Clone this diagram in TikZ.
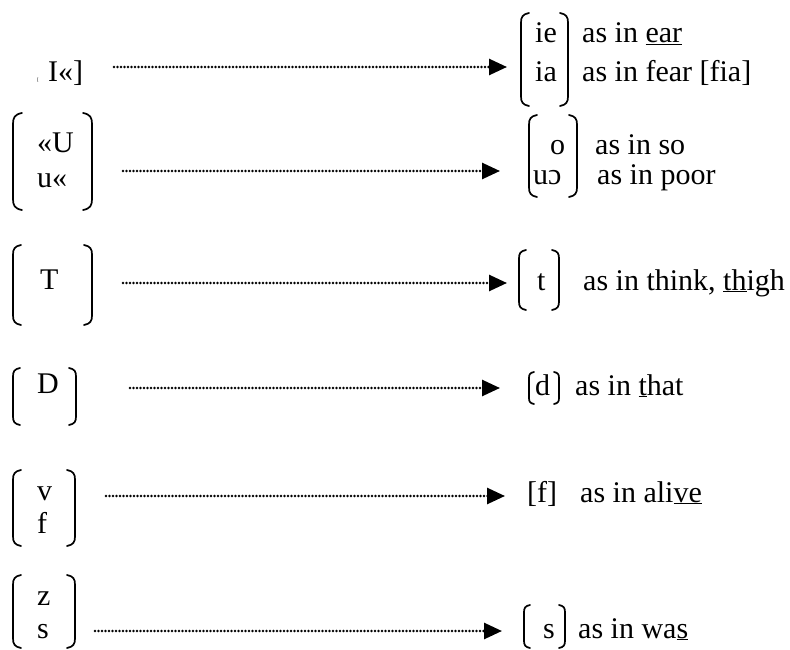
\documentclass[tikz,border=0pt]{standalone}
\usepackage{fontspec}
\setmainfont{Liberation Serif}
\usetikzlibrary{arrows.meta}

% curled square brackets drawn as paths: x of the vertical stroke, top, bottom, curl size
\newcommand\lbrk[4]{\draw[brk] ({#1+#4},#2) .. controls ({#1+0.2*#4},{#2+0.15*#4}) and (#1,{#2+0.5*#4}) .. (#1,{#2+1.2*#4}) -- (#1,{#3-1.2*#4}) .. controls (#1,{#3-0.5*#4}) and ({#1+0.2*#4},{#3-0.15*#4}) .. ({#1+#4},#3);}
\newcommand\rbrk[4]{\draw[brk] ({#1-#4},#2) .. controls ({#1-0.2*#4},{#2+0.15*#4}) and (#1,{#2+0.5*#4}) .. (#1,{#2+1.2*#4}) -- (#1,{#3-1.2*#4}) .. controls (#1,{#3-0.5*#4}) and ({#1-0.2*#4},{#3-0.15*#4}) .. ({#1-#4},#3);}
\newcommand\ul[1]{\underline{#1}}

\begin{document}
\begin{tikzpicture}[x=1pt,y=-1pt,
  txt/.style={anchor=base west,inner sep=0pt,font=\fontsize{30}{36}\selectfont},
  brk/.style={line width=1.7pt,line cap=round},
  dotarrow/.style={line width=2.7pt,line cap=round,dash pattern=on 0pt off 3.5pt,
    -{Triangle[length=18pt,width=16pt]}}]
\useasboundingbox (0,0) rectangle (790,650);

% row 1
\node[anchor=base west,inner sep=0pt,font=\fontsize{5}{6}\selectfont] (m1) at (37,82) {[};
\node[txt] (l1) at (48,82) {I«]};
\lbrk{521}{13}{106}{8}
\rbrk{568}{13}{106}{8}
\node[txt] (r1a) at (535,43) {ie};
\node[txt] (r1b) at (535,82) {ia};
\node[txt] (t1a) at (582,43) {as in \ul{ear}};
\node[txt] (t1b) at (582,82) {as in fear [fia]};
\coordinate (s1) at (114,67);
\coordinate (e1) at (507,67);
\draw[dotarrow] (s1) -- (e1);

% row 2
\lbrk{13}{113}{210}{9}
\rbrk{92}{113}{210}{9}
\node[txt] (l2a) at (37,153) {«U};
\node[txt] (l2b) at (37,187) {u«};
\lbrk{529}{115}{197}{8}
\rbrk{577}{115}{197}{8}
\node[txt] (r2a) at (550,155) {o};
\node[txt] (r2b) at (533,185) {uɔ};
\node[txt] (t2a) at (595,155) {as in so};
\node[txt] (t2b) at (597,185) {as in poor};
\coordinate (s2) at (123,171);
\coordinate (e2) at (500,171);
\draw[dotarrow] (s2) -- (e2);

% row 3
\lbrk{13}{245}{325}{8}
\rbrk{92}{245}{325}{8}
\node[txt] (l3) at (40,289) {T};
\lbrk{519}{250}{310}{7}
\rbrk{559}{250}{310}{7}
\node[txt] (r3) at (537,290) {t};
\node[txt] (t3) at (583,290) {as in think, \ul{th}igh};
\coordinate (s3) at (123,283);
\coordinate (e3) at (507,283);
\draw[dotarrow] (s3) -- (e3);

% row 4
\lbrk{13}{368}{425}{7}
\rbrk{76}{368}{425}{7}
\node[txt] (l4) at (37,393) {D};
\lbrk{529}{372}{404}{5}
\rbrk{559}{372}{404}{5}
\node[txt] (r4) at (535,395) {d};
\node[txt] (t4) at (575,395) {as in \ul{t}hat};
\coordinate (s4) at (130,388);
\coordinate (e4) at (500,388);
\draw[dotarrow] (s4) -- (e4);

% row 5
\lbrk{13}{470}{546}{8}
\rbrk{75}{470}{546}{8}
\node[txt] (l5a) at (37,500) {v};
\node[txt] (l5b) at (37,533) {f};
\node[txt] (r5) at (527,502) {[f]};
\node[txt] (t5) at (580,502) {as in ali\ul{ve}};
\coordinate (s5) at (106,496);
\coordinate (e5) at (505,496);
\draw[dotarrow] (s5) -- (e5);

% row 6
\lbrk{13}{575}{648}{8}
\rbrk{75}{575}{648}{8}
\node[txt] (l6a) at (37,605) {z};
\node[txt] (l6b) at (37,638) {s};
\lbrk{524}{605}{648}{6}
\rbrk{565}{605}{648}{6}
\node[txt] (r6) at (543,638) {s};
\node[txt] (t6) at (578,638) {as in wa\ul{s}};
\coordinate (s6) at (95,631);
\coordinate (e6) at (502,631);
\draw[dotarrow] (s6) -- (e6);
\end{tikzpicture}
\end{document}
